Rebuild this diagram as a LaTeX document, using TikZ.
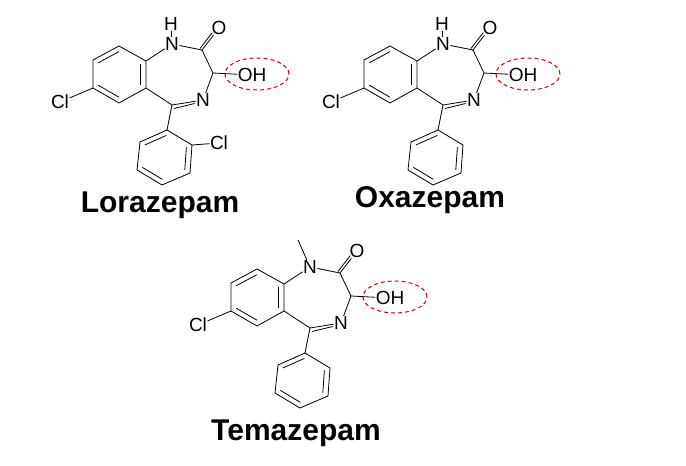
\documentclass[tikz,border=0pt]{standalone}
\usepackage{fontspec}
\setmainfont{Liberation Sans}
\usetikzlibrary{calc}
\tikzset{
  atom/.style={inner sep=0.3pt, font=\fontsize{19}{19}\selectfont},
  bond/.style={line width=0.8pt},
  ttl/.style={font=\fontsize{30}{30}\selectfont\bfseries},
  oh/.style={draw=red!85!black, line width=1pt, dash pattern=on 4pt off 3pt},
  core/.pic={
    \coordinate (-a1) at (119,46); \coordinate (-a2) at (146,61);
    \coordinate (-a3) at (146,88); \coordinate (-a4) at (119,103);
    \coordinate (-a5) at (93,88);  \coordinate (-a6) at (93,60);
    \coordinate (-ca) at (119,74);
    \coordinate (-C2) at (202,50); \coordinate (-C3) at (213,73);
    \coordinate (-C5) at (172,105);
    \coordinate (-p1) at (167,130); \coordinate (-p2) at (192,145);
    \coordinate (-p3) at (190,173); \coordinate (-p4) at (162,185);
    \coordinate (-p5) at (137,170); \coordinate (-p6) at (140,142);
    \coordinate (-cp) at (164,157);
    \node[atom] (-Cl) at (60,102) {Cl};
    \node[atom] (-N1) at (172,44) {N};
    \node[atom] (-O) at (219,28) {O};
    \node[atom] (-OH) at (252,75) {OH};
    \node[atom] (-N4) at (203,100) {N};
    \draw[bond] (-a1)--(-a2)--(-a3)--(-a4)--(-a5)--(-a6)--cycle;
    \draw[bond] ($(-a6)!0.2!(-ca)$)--($(-a1)!0.2!(-ca)$);
    \draw[bond] ($(-a2)!0.2!(-ca)$)--($(-a3)!0.2!(-ca)$);
    \draw[bond] ($(-a4)!0.2!(-ca)$)--($(-a5)!0.2!(-ca)$);
    \draw[bond] (-a5)--(-Cl);
    \draw[bond] (-a2)--(-N1); \draw[bond] (-N1)--(-C2); \draw[bond] (-C2)--(-C3);
    \draw[bond] (-C3)--(-N4); \draw[bond] (-N4)--(-C5); \draw[bond] (-C5)--(-a3);
    \draw[bond] ($(-C5)+(2,3.5)$)--($(-N4.west)+(-1,3.5)$);
    \draw[bond] (-C2)--(-O);
    \draw[bond] ($(-C2)!2.5pt!90:(-O)$)--($($(-C2)!0.72!(-O)$)!2.5pt!-90:(-C2)$);
    \draw[bond] (-C3)--(-OH);
    \draw[bond] (-C5)--(-p1);
    \draw[bond] (-p1)--(-p2)--(-p3)--(-p4)--(-p5)--(-p6)--cycle;
    \draw[bond] ($(-p6)!0.2!(-cp)$)--($(-p1)!0.2!(-cp)$);
    \draw[bond] ($(-p2)!0.2!(-cp)$)--($(-p3)!0.2!(-cp)$);
    \draw[bond] ($(-p4)!0.2!(-cp)$)--($(-p5)!0.2!(-cp)$);
    \draw[oh] ($(-OH)+(5,-1)$) ellipse (32pt and 16pt);
  }
}
\begin{document}
\begin{tikzpicture}[x=1pt,y=-1pt]
\useasboundingbox[fill=white] (0,0) rectangle (686,466);
\pic (lor) at (0,0) {core};
\pic (oxa) at (271,0) {core};
\pic (tem) at (138,223) {core};
% Lorazepam extras
\node[atom] (lorH) at ($(lor-N1)+(-1,-20)$) {H};
\draw[bond] (lor-N1)--(lorH);
\node[atom] (lorCl2) at (219,143) {Cl};
\draw[bond] (lor-p2)--(lorCl2);
% Oxazepam extras
\node[atom] (oxaH) at ($(oxa-N1)+(-1,-20)$) {H};
\draw[bond] (oxa-N1)--(oxaH);
% Temazepam extras
\coordinate (temMe) at ($(tem-N1)+(-12,-27)$);
\draw[bond] (tem-N1)--(temMe);
% titles
\node[ttl] (t1) at (160,205) {Lorazepam};
\node[ttl] (t2) at (430,200) {Oxazepam};
\node[ttl] (t3) at (296,433) {Temazepam};
\end{tikzpicture}
\end{document}
